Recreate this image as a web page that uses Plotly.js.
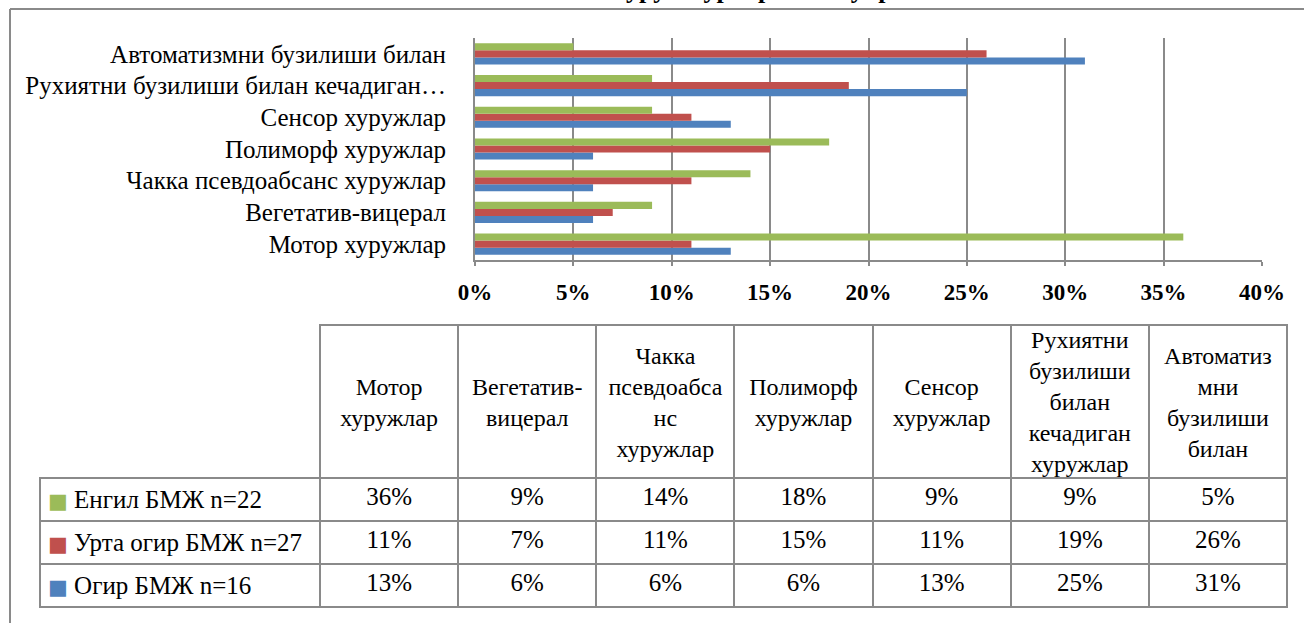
<!DOCTYPE html>
<html><head><meta charset="utf-8">
<script src="https://cdn.plot.ly/plotly-3.0.1.min.js"></script>
<style>html,body{margin:0;padding:0;background:#fff;} #chart{width:1304px;height:623px;}</style>
</head><body><div id="chart"></div>
<script>
// ---------- data ----------
const categories = ["Мотор хуружлар","Вегетатив-вицерал","Чакка псевдоабсанс хуружлар","Полиморф хуружлар","Сенсор хуружлар","Рухиятни бузилиши билан кечадиган хуружлар","Автоматизмни бузилиши билан"];
const axisLabels = ["Мотор хуружлар","Вегетатив-вицерал","Чакка псевдоабсанс хуружлар","Полиморф хуружлар","Сенсор хуружлар","Рухиятни бузилиши билан кечадиган…","Автоматизмни бузилиши билан"];
const tableHeaders = ["Мотор<br>хуружлар","Вегетатив-<br>вицерал","Чакка<br>псевдоабса<br>нс<br>хуружлар","Полиморф<br>хуружлар","Сенсор<br>хуружлар","Рухиятни<br>бузилиши<br>билан<br>кечадиган<br>хуружлар","Автоматиз<br>мни<br>бузилиши<br>билан"];
const seriesNames = ["Енгил БМЖ n=22","Урта огир БМЖ n=27","Огир БМЖ n=16"];
const engil = [36,9,14,18,9,9,5];
const urta  = [11,7,11,15,11,19,26];
const ogir  = [13,6,6,6,13,25,31];
const titleText = "БМЖ ОҒИРЛИГИГА КЎРА хуруж турларининг учраш частотаси";

// ---------- style ----------
const W = 1304, H = 623;
const SERIF = '"Liberation Serif", "Times New Roman", serif';
const GRAY = "#8a8a8a";
const colors = {engil:"#9BBB59", urta:"#C0504D", ogir:"#4F81BD"};
const px = v => v / W, py = v => 1 - v / H;

const seriesList = [
  {name: seriesNames[0], vals: engil, color: colors.engil},
  {name: seriesNames[1], vals: urta,  color: colors.urta},
  {name: seriesNames[2], vals: ogir,  color: colors.ogir}
];

// bars: bottom-to-top order inside group is blue, red, green
const barTraces = seriesList.slice().reverse().map(s => ({
  type: 'bar', orientation: 'h', name: s.name,
  x: s.vals.map(v => v / 100), y: categories,
  marker: {color: s.color}, showlegend: false, hoverinfo: 'skip'
}));

// ---------- data table ----------
const ncol = categories.length + 1;
const colW = [280].concat(categories.map(() => 138.14));
const tableDomainX = [px(40), px(1287)];
const transparent = 'rgba(0,0,0,0)';
const labelCells = seriesList.map(s =>
  '<span style="color:' + s.color + ';font-size:21px;font-family:DejaVu Sans">■</span> ' + s.name + '<br>');
const valueCols = categories.map((c, j) => seriesList.map(s => s.vals[j] + '%'));

const mainTable = {
  type: 'table', domain: {x: tableDomainX, y: [py(618), py(325)]},
  columnwidth: colW,
  header: {
    values: Array(ncol).fill(''), height: 153,
    line: {color: [transparent].concat(categories.map(() => GRAY)), width: 2},
    fill: {color: [transparent].concat(categories.map(() => 'white'))}
  },
  cells: {
    values: [labelCells].concat(valueCols), height: 40,
    align: ['left'].concat(categories.map(() => 'center')),
    line: {color: GRAY, width: 2}, fill: {color: 'white'},
    font: {family: SERIF, size: 25, color: '#000'}
  }
};

// header texts: each line centred on its own, block centred vertically
const hdrFont = 24, lh = 31, hdrCenter = 404, textCenterOffset = 20;
const groups = new Map();
tableHeaders.forEach((t, j) => {
  const lines = t.split('<br>');
  const n = lines.length;
  lines.forEach((ln, i) => {
    const c = hdrCenter + (i - (n - 1) / 2) * lh;
    const key = c.toFixed(1);
    if (!groups.has(key)) groups.set(key, {c: c, texts: categories.map(() => '')});
    groups.get(key).texts[j] = ln;
  });
});
const overlays = [...groups.values()].map(g => ({
  type: 'table', domain: {x: tableDomainX, y: [0, py(g.c - textCenterOffset)]},
  columnwidth: colW,
  header: {
    values: [''].concat(g.texts), height: 20, align: 'center',
    line: {color: transparent, width: 0}, fill: {color: transparent},
    font: {family: SERIF, size: hdrFont, color: '#000'}
  },
  cells: {values: Array(ncol).fill(['']), height: 20,
    line: {color: transparent, width: 0}, fill: {color: transparent}}
}));

const layout = {
  width: W, height: H, margin: {l: 0, r: 0, t: 0, b: 0},
  paper_bgcolor: 'white', plot_bgcolor: 'white',
  barmode: 'group', bargap: 0.333, bargroupgap: 0,
  showlegend: false,
  xaxis: {
    domain: [px(475), px(1262)], range: [0, 0.4], dtick: 0.05, tick0: 0,
    tickformat: '.0%', showgrid: true, gridcolor: GRAY, gridwidth: 2,
    zeroline: false, showline: true, linecolor: GRAY, linewidth: 2,
    ticks: 'outside', ticklen: 4, tickwidth: 2, tickcolor: GRAY,
    ticklabelstandoff: 6,
    tickfont: {family: SERIF, size: 23, color: '#000', weight: 'bold'},
    fixedrange: true
  },
  yaxis: {
    domain: [py(260), py(38)], type: 'category', categoryarray: categories,
    tickvals: categories, ticktext: axisLabels,
    showgrid: false, zeroline: false, showline: true, linecolor: GRAY, linewidth: 2,
    ticks: '', ticklabelstandoff: 22,
    tickfont: {family: SERIF, size: 25, color: '#000'}, fixedrange: true
  },
  shapes: [
    {type: 'line', xref: 'paper', yref: 'paper', x0: px(10), x1: 1, y0: py(9), y1: py(9), line: {color: GRAY, width: 2}},
    {type: 'line', xref: 'paper', yref: 'paper', x0: px(10), x1: px(10), y0: py(9), y1: 0, line: {color: GRAY, width: 2}}
  ],
  annotations: [{
    text: titleText, xref: 'paper', yref: 'paper', x: px(665), y: 1 + 10 / H,
    xanchor: 'center', yanchor: 'middle', showarrow: false,
    font: {family: SERIF, size: 26, color: '#000', weight: 'bold'}
  }]
};

Plotly.newPlot('chart', barTraces.concat([mainTable], overlays), layout, {displayModeBar: false, staticPlot: true});
</script></body></html>
